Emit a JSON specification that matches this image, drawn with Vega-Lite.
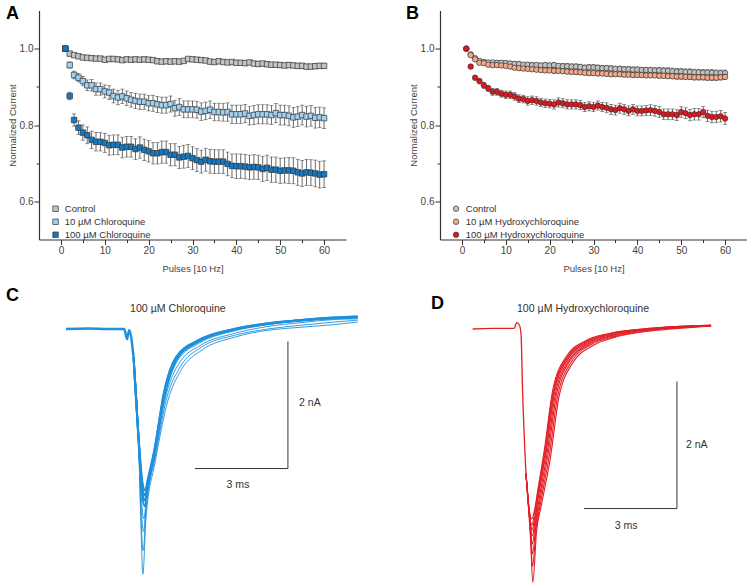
{
"$schema":"https://vega.github.io/schema/vega-lite/v6.json",
"padding":{"left":5,"top":4.5,"right":0,"bottom":0},
"config":{
 "font":"Liberation Sans",
 "view":{"stroke":null},
 "axis":{"domainColor":"#333","domainWidth":1.2,"tickColor":"#333","tickWidth":1,"labelFontSize":10,"labelColor":"#444","titleFontSize":9.5,"titleFontWeight":"normal","titleColor":"#444","grid":false,"labelFont":"Liberation Sans","titleFont":"Liberation Sans"},
 "legend":{"labelFont":"Liberation Sans"}
},
"datasets":{
"top":[
{"p":1,"ac":1.000,"ace":0,"a1":1.000,"a1e":0,"a2":1.000,"a2e":0,"bc":1.000,"bce":0,"b1":1.000,"b1e":0,"b2":1.000,"b2e":0},
{"p":2,"ac":0.987,"ace":0.003,"a1":0.957,"a1e":0.008,"a2":0.876,"a2e":0.010,"bc":0.985,"bce":0.004,"b1":0.983,"b1e":0.004,"b2":0.953,"b2e":0.004},
{"p":3,"ac":0.983,"ace":0.003,"a1":0.931,"a1e":0.010,"a2":0.813,"a2e":0.016,"bc":0.975,"bce":0.005,"b1":0.972,"b1e":0.004,"b2":0.924,"b2e":0.006},
{"p":4,"ac":0.980,"ace":0.003,"a1":0.924,"a1e":0.011,"a2":0.793,"a2e":0.018,"bc":0.968,"bce":0.005,"b1":0.963,"b1e":0.005,"b2":0.915,"b2e":0.007},
{"p":5,"ac":0.977,"ace":0.003,"a1":0.915,"a1e":0.012,"a2":0.780,"a2e":0.020,"bc":0.965,"bce":0.005,"b1":0.962,"b1e":0.005,"b2":0.904,"b2e":0.008},
{"p":6,"ac":0.976,"ace":0.003,"a1":0.904,"a1e":0.014,"a2":0.773,"a2e":0.022,"bc":0.964,"bce":0.005,"b1":0.958,"b1e":0.005,"b2":0.896,"b2e":0.008},
{"p":7,"ac":0.975,"ace":0.003,"a1":0.904,"a1e":0.015,"a2":0.761,"a2e":0.023,"bc":0.964,"bce":0.005,"b1":0.957,"b1e":0.005,"b2":0.887,"b2e":0.009},
{"p":8,"ac":0.974,"ace":0.004,"a1":0.894,"a1e":0.016,"a2":0.756,"a2e":0.024,"bc":0.963,"bce":0.006,"b1":0.957,"b1e":0.005,"b2":0.887,"b2e":0.009},
{"p":9,"ac":0.974,"ace":0.004,"a1":0.894,"a1e":0.016,"a2":0.756,"a2e":0.024,"bc":0.963,"bce":0.006,"b1":0.956,"b1e":0.005,"b2":0.882,"b2e":0.009},
{"p":10,"ac":0.971,"ace":0.004,"a1":0.888,"a1e":0.017,"a2":0.753,"a2e":0.025,"bc":0.962,"bce":0.006,"b1":0.955,"b1e":0.005,"b2":0.879,"b2e":0.010},
{"p":11,"ac":0.973,"ace":0.004,"a1":0.885,"a1e":0.018,"a2":0.747,"a2e":0.026,"bc":0.961,"bce":0.006,"b1":0.953,"b1e":0.005,"b2":0.879,"b2e":0.010},
{"p":12,"ac":0.973,"ace":0.004,"a1":0.876,"a1e":0.018,"a2":0.748,"a2e":0.026,"bc":0.960,"bce":0.006,"b1":0.950,"b1e":0.005,"b2":0.875,"b2e":0.010},
{"p":13,"ac":0.972,"ace":0.004,"a1":0.872,"a1e":0.019,"a2":0.748,"a2e":0.026,"bc":0.960,"bce":0.006,"b1":0.949,"b1e":0.005,"b2":0.869,"b2e":0.010},
{"p":14,"ac":0.970,"ace":0.004,"a1":0.875,"a1e":0.019,"a2":0.741,"a2e":0.027,"bc":0.958,"bce":0.006,"b1":0.948,"b1e":0.005,"b2":0.868,"b2e":0.010},
{"p":15,"ac":0.972,"ace":0.004,"a1":0.870,"a1e":0.019,"a2":0.743,"a2e":0.027,"bc":0.958,"bce":0.006,"b1":0.947,"b1e":0.005,"b2":0.863,"b2e":0.011},
{"p":16,"ac":0.971,"ace":0.004,"a1":0.866,"a1e":0.019,"a2":0.743,"a2e":0.027,"bc":0.957,"bce":0.006,"b1":0.946,"b1e":0.005,"b2":0.865,"b2e":0.011},
{"p":17,"ac":0.972,"ace":0.004,"a1":0.863,"a1e":0.020,"a2":0.737,"a2e":0.027,"bc":0.957,"bce":0.006,"b1":0.945,"b1e":0.005,"b2":0.863,"b2e":0.011},
{"p":18,"ac":0.971,"ace":0.004,"a1":0.861,"a1e":0.020,"a2":0.741,"a2e":0.028,"bc":0.956,"bce":0.006,"b1":0.944,"b1e":0.005,"b2":0.859,"b2e":0.011},
{"p":19,"ac":0.972,"ace":0.004,"a1":0.861,"a1e":0.020,"a2":0.735,"a2e":0.028,"bc":0.957,"bce":0.006,"b1":0.943,"b1e":0.005,"b2":0.857,"b2e":0.011},
{"p":20,"ac":0.971,"ace":0.004,"a1":0.857,"a1e":0.020,"a2":0.731,"a2e":0.028,"bc":0.956,"bce":0.006,"b1":0.943,"b1e":0.005,"b2":0.856,"b2e":0.011},
{"p":21,"ac":0.970,"ace":0.004,"a1":0.857,"a1e":0.021,"a2":0.726,"a2e":0.028,"bc":0.957,"bce":0.006,"b1":0.942,"b1e":0.006,"b2":0.854,"b2e":0.012},
{"p":22,"ac":0.967,"ace":0.004,"a1":0.854,"a1e":0.021,"a2":0.726,"a2e":0.028,"bc":0.955,"bce":0.006,"b1":0.942,"b1e":0.006,"b2":0.859,"b2e":0.012},
{"p":23,"ac":0.966,"ace":0.004,"a1":0.852,"a1e":0.021,"a2":0.729,"a2e":0.029,"bc":0.954,"bce":0.007,"b1":0.941,"b1e":0.006,"b2":0.857,"b2e":0.012},
{"p":24,"ac":0.967,"ace":0.004,"a1":0.852,"a1e":0.021,"a2":0.729,"a2e":0.029,"bc":0.954,"bce":0.007,"b1":0.940,"b1e":0.006,"b2":0.854,"b2e":0.012},
{"p":25,"ac":0.966,"ace":0.004,"a1":0.855,"a1e":0.021,"a2":0.722,"a2e":0.029,"bc":0.953,"bce":0.007,"b1":0.939,"b1e":0.006,"b2":0.854,"b2e":0.012},
{"p":26,"ac":0.967,"ace":0.004,"a1":0.844,"a1e":0.021,"a2":0.722,"a2e":0.029,"bc":0.953,"bce":0.007,"b1":0.939,"b1e":0.006,"b2":0.854,"b2e":0.012},
{"p":27,"ac":0.966,"ace":0.004,"a1":0.847,"a1e":0.022,"a2":0.715,"a2e":0.029,"bc":0.952,"bce":0.007,"b1":0.938,"b1e":0.006,"b2":0.852,"b2e":0.012},
{"p":28,"ac":0.968,"ace":0.004,"a1":0.841,"a1e":0.022,"a2":0.717,"a2e":0.030,"bc":0.950,"bce":0.007,"b1":0.937,"b1e":0.006,"b2":0.847,"b2e":0.012},
{"p":29,"ac":0.973,"ace":0.004,"a1":0.841,"a1e":0.022,"a2":0.719,"a2e":0.030,"bc":0.951,"bce":0.007,"b1":0.936,"b1e":0.006,"b2":0.849,"b2e":0.012},
{"p":30,"ac":0.972,"ace":0.004,"a1":0.841,"a1e":0.022,"a2":0.713,"a2e":0.030,"bc":0.951,"bce":0.007,"b1":0.936,"b1e":0.006,"b2":0.847,"b2e":0.012},
{"p":31,"ac":0.971,"ace":0.005,"a1":0.840,"a1e":0.022,"a2":0.708,"a2e":0.030,"bc":0.950,"bce":0.007,"b1":0.935,"b1e":0.006,"b2":0.851,"b2e":0.012},
{"p":32,"ac":0.970,"ace":0.005,"a1":0.835,"a1e":0.023,"a2":0.704,"a2e":0.030,"bc":0.949,"bce":0.007,"b1":0.935,"b1e":0.006,"b2":0.847,"b2e":0.012},
{"p":33,"ac":0.969,"ace":0.005,"a1":0.837,"a1e":0.023,"a2":0.709,"a2e":0.030,"bc":0.949,"bce":0.007,"b1":0.934,"b1e":0.006,"b2":0.845,"b2e":0.013},
{"p":34,"ac":0.966,"ace":0.005,"a1":0.840,"a1e":0.023,"a2":0.705,"a2e":0.031,"bc":0.948,"bce":0.007,"b1":0.933,"b1e":0.006,"b2":0.841,"b2e":0.013},
{"p":35,"ac":0.965,"ace":0.005,"a1":0.834,"a1e":0.023,"a2":0.704,"a2e":0.031,"bc":0.947,"bce":0.007,"b1":0.933,"b1e":0.006,"b2":0.839,"b2e":0.013},
{"p":36,"ac":0.967,"ace":0.005,"a1":0.834,"a1e":0.023,"a2":0.704,"a2e":0.031,"bc":0.947,"bce":0.007,"b1":0.933,"b1e":0.006,"b2":0.844,"b2e":0.013},
{"p":37,"ac":0.965,"ace":0.005,"a1":0.833,"a1e":0.023,"a2":0.704,"a2e":0.031,"bc":0.946,"bce":0.007,"b1":0.932,"b1e":0.006,"b2":0.841,"b2e":0.013},
{"p":38,"ac":0.964,"ace":0.005,"a1":0.834,"a1e":0.024,"a2":0.698,"a2e":0.031,"bc":0.946,"bce":0.007,"b1":0.932,"b1e":0.006,"b2":0.837,"b2e":0.013},
{"p":39,"ac":0.965,"ace":0.005,"a1":0.828,"a1e":0.024,"a2":0.693,"a2e":0.031,"bc":0.945,"bce":0.007,"b1":0.931,"b1e":0.006,"b2":0.841,"b2e":0.013},
{"p":40,"ac":0.963,"ace":0.005,"a1":0.828,"a1e":0.024,"a2":0.692,"a2e":0.032,"bc":0.945,"bce":0.007,"b1":0.931,"b1e":0.006,"b2":0.837,"b2e":0.013},
{"p":41,"ac":0.963,"ace":0.005,"a1":0.828,"a1e":0.024,"a2":0.692,"a2e":0.032,"bc":0.944,"bce":0.007,"b1":0.931,"b1e":0.006,"b2":0.837,"b2e":0.013},
{"p":42,"ac":0.962,"ace":0.005,"a1":0.830,"a1e":0.024,"a2":0.691,"a2e":0.032,"bc":0.944,"bce":0.007,"b1":0.930,"b1e":0.006,"b2":0.838,"b2e":0.013},
{"p":43,"ac":0.964,"ace":0.005,"a1":0.824,"a1e":0.024,"a2":0.689,"a2e":0.032,"bc":0.944,"bce":0.007,"b1":0.930,"b1e":0.006,"b2":0.839,"b2e":0.014},
{"p":44,"ac":0.961,"ace":0.005,"a1":0.826,"a1e":0.025,"a2":0.690,"a2e":0.032,"bc":0.943,"bce":0.007,"b1":0.930,"b1e":0.006,"b2":0.837,"b2e":0.014},
{"p":45,"ac":0.960,"ace":0.005,"a1":0.828,"a1e":0.025,"a2":0.689,"a2e":0.032,"bc":0.943,"bce":0.008,"b1":0.929,"b1e":0.006,"b2":0.834,"b2e":0.014},
{"p":46,"ac":0.961,"ace":0.006,"a1":0.828,"a1e":0.025,"a2":0.685,"a2e":0.033,"bc":0.942,"bce":0.008,"b1":0.929,"b1e":0.006,"b2":0.828,"b2e":0.014},
{"p":47,"ac":0.959,"ace":0.006,"a1":0.828,"a1e":0.025,"a2":0.688,"a2e":0.033,"bc":0.942,"bce":0.008,"b1":0.928,"b1e":0.006,"b2":0.828,"b2e":0.014},
{"p":48,"ac":0.958,"ace":0.006,"a1":0.826,"a1e":0.025,"a2":0.683,"a2e":0.033,"bc":0.941,"bce":0.008,"b1":0.928,"b1e":0.007,"b2":0.828,"b2e":0.014},
{"p":49,"ac":0.958,"ace":0.006,"a1":0.831,"a1e":0.025,"a2":0.683,"a2e":0.033,"bc":0.940,"bce":0.008,"b1":0.927,"b1e":0.007,"b2":0.826,"b2e":0.014},
{"p":50,"ac":0.957,"ace":0.006,"a1":0.826,"a1e":0.026,"a2":0.680,"a2e":0.033,"bc":0.940,"bce":0.008,"b1":0.927,"b1e":0.007,"b2":0.834,"b2e":0.014},
{"p":51,"ac":0.956,"ace":0.006,"a1":0.826,"a1e":0.026,"a2":0.681,"a2e":0.033,"bc":0.939,"bce":0.008,"b1":0.926,"b1e":0.007,"b2":0.831,"b2e":0.014},
{"p":52,"ac":0.957,"ace":0.006,"a1":0.824,"a1e":0.026,"a2":0.681,"a2e":0.034,"bc":0.939,"bce":0.008,"b1":0.926,"b1e":0.007,"b2":0.826,"b2e":0.015},
{"p":53,"ac":0.956,"ace":0.006,"a1":0.820,"a1e":0.026,"a2":0.680,"a2e":0.034,"bc":0.938,"bce":0.008,"b1":0.925,"b1e":0.007,"b2":0.828,"b2e":0.015},
{"p":54,"ac":0.955,"ace":0.006,"a1":0.822,"a1e":0.026,"a2":0.676,"a2e":0.034,"bc":0.938,"bce":0.008,"b1":0.925,"b1e":0.007,"b2":0.828,"b2e":0.015},
{"p":55,"ac":0.955,"ace":0.006,"a1":0.826,"a1e":0.026,"a2":0.673,"a2e":0.034,"bc":0.937,"bce":0.008,"b1":0.925,"b1e":0.007,"b2":0.834,"b2e":0.015},
{"p":56,"ac":0.953,"ace":0.006,"a1":0.822,"a1e":0.027,"a2":0.676,"a2e":0.034,"bc":0.937,"bce":0.008,"b1":0.924,"b1e":0.007,"b2":0.824,"b2e":0.015},
{"p":57,"ac":0.953,"ace":0.006,"a1":0.824,"a1e":0.027,"a2":0.675,"a2e":0.034,"bc":0.937,"bce":0.008,"b1":0.924,"b1e":0.007,"b2":0.821,"b2e":0.015},
{"p":58,"ac":0.954,"ace":0.006,"a1":0.819,"a1e":0.027,"a2":0.673,"a2e":0.035,"bc":0.936,"bce":0.008,"b1":0.924,"b1e":0.007,"b2":0.821,"b2e":0.015},
{"p":59,"ac":0.955,"ace":0.006,"a1":0.820,"a1e":0.027,"a2":0.670,"a2e":0.035,"bc":0.936,"bce":0.008,"b1":0.925,"b1e":0.007,"b2":0.823,"b2e":0.015},
{"p":60,"ac":0.955,"ace":0.006,"a1":0.818,"a1e":0.027,"a2":0.671,"a2e":0.035,"bc":0.936,"bce":0.008,"b1":0.926,"b1e":0.007,"b2":0.817,"b2e":0.016}
],
"c":[
{"tr":0,"t":0.87,"i":0.04},{"tr":0,"t":1.6,"i":0.05},{"tr":0,"t":2.3,"i":0.04},{"tr":0,"t":2.75,"i":0.04},{"tr":0,"t":2.84,"i":-0.12},{"tr":0,"t":2.91,"i":0.02},{"tr":0,"t":3.05,"i":-0.40},
{"tr":1,"t":3.05,"i":-0.40},{"tr":1,"t":3.22,"i":-1.72},{"tr":1,"t":3.33,"i":-2.35},{"tr":1,"t":3.42,"i":-2.50},{"tr":1,"t":3.52,"i":-2.30},{"tr":1,"t":3.72,"i":-1.87},{"tr":1,"t":4.04,"i":-0.93},{"tr":1,"t":4.42,"i":-0.40},{"tr":1,"t":5.12,"i":-0.14},{"tr":1,"t":6.30,"i":0.04},{"tr":1,"t":7.38,"i":0.13},{"tr":1,"t":8.45,"i":0.18},{"tr":1,"t":9.53,"i":0.22},{"tr":1,"t":10.28,"i":0.23},
{"tr":2,"t":3.05,"i":-0.40},{"tr":2,"t":3.22,"i":-1.74},{"tr":2,"t":3.33,"i":-2.42},{"tr":2,"t":3.42,"i":-2.58},{"tr":2,"t":3.52,"i":-2.36},{"tr":2,"t":3.72,"i":-1.88},{"tr":2,"t":4.05,"i":-0.94},{"tr":2,"t":4.43,"i":-0.41},{"tr":2,"t":5.13,"i":-0.15},{"tr":2,"t":6.30,"i":0.04},{"tr":2,"t":7.38,"i":0.13},{"tr":2,"t":8.45,"i":0.18},{"tr":2,"t":9.53,"i":0.22},{"tr":2,"t":10.28,"i":0.24},
{"tr":3,"t":3.05,"i":-0.40},{"tr":3,"t":3.22,"i":-1.76},{"tr":3,"t":3.33,"i":-2.50},{"tr":3,"t":3.41,"i":-2.66},{"tr":3,"t":3.51,"i":-2.42},{"tr":3,"t":3.72,"i":-1.90},{"tr":3,"t":4.06,"i":-0.95},{"tr":3,"t":4.44,"i":-0.42},{"tr":3,"t":5.14,"i":-0.15},{"tr":3,"t":6.30,"i":0.03},{"tr":3,"t":7.38,"i":0.12},{"tr":3,"t":8.45,"i":0.18},{"tr":3,"t":9.53,"i":0.21},{"tr":3,"t":10.28,"i":0.23},
{"tr":4,"t":3.05,"i":-0.40},{"tr":4,"t":3.22,"i":-1.78},{"tr":4,"t":3.32,"i":-2.55},{"tr":4,"t":3.41,"i":-2.75},{"tr":4,"t":3.51,"i":-2.48},{"tr":4,"t":3.72,"i":-1.92},{"tr":4,"t":4.07,"i":-0.96},{"tr":4,"t":4.45,"i":-0.43},{"tr":4,"t":5.15,"i":-0.16},{"tr":4,"t":6.30,"i":0.03},{"tr":4,"t":7.38,"i":0.12},{"tr":4,"t":8.45,"i":0.17},{"tr":4,"t":9.53,"i":0.21},{"tr":4,"t":10.28,"i":0.22},
{"tr":5,"t":3.05,"i":-0.40},{"tr":5,"t":3.22,"i":-1.80},{"tr":5,"t":3.30,"i":-2.60},{"tr":5,"t":3.38,"i":-2.95},{"tr":5,"t":3.48,"i":-2.55},{"tr":5,"t":3.72,"i":-1.95},{"tr":5,"t":4.08,"i":-0.98},{"tr":5,"t":4.48,"i":-0.45},{"tr":5,"t":5.18,"i":-0.18},{"tr":5,"t":6.30,"i":0.01},{"tr":5,"t":7.38,"i":0.11},{"tr":5,"t":8.45,"i":0.17},{"tr":5,"t":9.53,"i":0.21},{"tr":5,"t":10.28,"i":0.22},
{"tr":6,"t":3.05,"i":-0.40},{"tr":6,"t":3.22,"i":-1.82},{"tr":6,"t":3.29,"i":-2.70},{"tr":6,"t":3.37,"i":-3.15},{"tr":6,"t":3.47,"i":-2.62},{"tr":6,"t":3.73,"i":-1.98},{"tr":6,"t":4.10,"i":-1.00},{"tr":6,"t":4.52,"i":-0.50},{"tr":6,"t":5.20,"i":-0.22},{"tr":6,"t":6.30,"i":-0.03},{"tr":6,"t":7.38,"i":0.08},{"tr":6,"t":8.45,"i":0.14},{"tr":6,"t":9.53,"i":0.19},{"tr":6,"t":10.28,"i":0.20},
{"tr":7,"t":3.05,"i":-0.40},{"tr":7,"t":3.22,"i":-1.84},{"tr":7,"t":3.28,"i":-2.80},{"tr":7,"t":3.36,"i":-3.45},{"tr":7,"t":3.46,"i":-2.75},{"tr":7,"t":3.74,"i":-2.00},{"tr":7,"t":4.12,"i":-1.05},{"tr":7,"t":4.55,"i":-0.56},{"tr":7,"t":5.23,"i":-0.25},{"tr":7,"t":6.30,"i":-0.06},{"tr":7,"t":7.38,"i":0.04},{"tr":7,"t":8.45,"i":0.10},{"tr":7,"t":9.53,"i":0.15},{"tr":7,"t":10.28,"i":0.18},
{"tr":8,"t":3.05,"i":-0.40},{"tr":8,"t":3.22,"i":-1.86},{"tr":8,"t":3.28,"i":-2.90},{"tr":8,"t":3.35,"i":-3.82},{"tr":8,"t":3.45,"i":-2.95},{"tr":8,"t":3.75,"i":-2.05},{"tr":8,"t":4.15,"i":-1.10},{"tr":8,"t":4.58,"i":-0.61},{"tr":8,"t":5.23,"i":-0.30},{"tr":8,"t":6.30,"i":-0.09},{"tr":8,"t":7.38,"i":0.02},{"tr":8,"t":8.24,"i":0.06},{"tr":8,"t":9.53,"i":0.11},{"tr":8,"t":10.28,"i":0.15}
],
"d":[
{"tr":0,"t":0.86,"i":0.04},{"tr":0,"t":1.5,"i":0.05},{"tr":0,"t":2.20,"i":0.05},{"tr":0,"t":2.28,"i":0.14},{"tr":0,"t":2.37,"i":0.10},{"tr":0,"t":2.42,"i":-0.04},{"tr":0,"t":2.47,"i":-0.93},{"tr":0,"t":2.58,"i":-2.24},
{"tr":1,"t":2.58,"i":-2.24},{"tr":1,"t":2.70,"i":-2.85},{"tr":1,"t":2.77,"i":-2.95},{"tr":1,"t":2.86,"i":-2.80},{"tr":1,"t":2.96,"i":-2.50},{"tr":1,"t":3.17,"i":-1.87},{"tr":1,"t":3.44,"i":-0.93},{"tr":1,"t":3.87,"i":-0.40},{"tr":1,"t":4.52,"i":-0.14},{"tr":1,"t":5.27,"i":-0.03},{"tr":1,"t":6.34,"i":0.04},{"tr":1,"t":7.42,"i":0.08},{"tr":1,"t":8.55,"i":0.10},
{"tr":2,"t":2.58,"i":-2.24},{"tr":2,"t":2.70,"i":-2.90},{"tr":2,"t":2.77,"i":-3.05},{"tr":2,"t":2.86,"i":-2.85},{"tr":2,"t":2.97,"i":-2.52},{"tr":2,"t":3.19,"i":-1.88},{"tr":2,"t":3.46,"i":-0.94},{"tr":2,"t":3.90,"i":-0.41},{"tr":2,"t":4.55,"i":-0.15},{"tr":2,"t":5.29,"i":-0.03},{"tr":2,"t":6.34,"i":0.04},{"tr":2,"t":7.42,"i":0.08},{"tr":2,"t":8.55,"i":0.10},
{"tr":3,"t":2.58,"i":-2.24},{"tr":3,"t":2.71,"i":-2.95},{"tr":3,"t":2.77,"i":-3.13},{"tr":3,"t":2.87,"i":-2.90},{"tr":3,"t":2.98,"i":-2.55},{"tr":3,"t":3.21,"i":-1.89},{"tr":3,"t":3.48,"i":-0.95},{"tr":3,"t":3.92,"i":-0.42},{"tr":3,"t":4.57,"i":-0.16},{"tr":3,"t":5.31,"i":-0.04},{"tr":3,"t":6.36,"i":0.03},{"tr":3,"t":7.42,"i":0.08},{"tr":3,"t":8.55,"i":0.10},
{"tr":4,"t":2.58,"i":-2.24},{"tr":4,"t":2.71,"i":-3.00},{"tr":4,"t":2.78,"i":-3.22},{"tr":4,"t":2.88,"i":-2.95},{"tr":4,"t":2.99,"i":-2.58},{"tr":4,"t":3.23,"i":-1.90},{"tr":4,"t":3.50,"i":-0.96},{"tr":4,"t":3.94,"i":-0.43},{"tr":4,"t":4.60,"i":-0.17},{"tr":4,"t":5.33,"i":-0.05},{"tr":4,"t":6.38,"i":0.03},{"tr":4,"t":7.44,"i":0.07},{"tr":4,"t":8.55,"i":0.10},
{"tr":5,"t":2.58,"i":-2.24},{"tr":5,"t":2.72,"i":-3.05},{"tr":5,"t":2.78,"i":-3.35},{"tr":5,"t":2.89,"i":-3.00},{"tr":5,"t":3.01,"i":-2.62},{"tr":5,"t":3.26,"i":-1.92},{"tr":5,"t":3.53,"i":-0.98},{"tr":5,"t":3.97,"i":-0.45},{"tr":5,"t":4.63,"i":-0.18},{"tr":5,"t":5.36,"i":-0.06},{"tr":5,"t":6.40,"i":0.02},{"tr":5,"t":7.45,"i":0.07},{"tr":5,"t":8.55,"i":0.09},
{"tr":6,"t":2.58,"i":-2.24},{"tr":6,"t":2.72,"i":-3.10},{"tr":6,"t":2.79,"i":-3.50},{"tr":6,"t":2.90,"i":-3.05},{"tr":6,"t":3.03,"i":-2.66},{"tr":6,"t":3.29,"i":-1.94},{"tr":6,"t":3.56,"i":-1.00},{"tr":6,"t":4.00,"i":-0.46},{"tr":6,"t":4.66,"i":-0.19},{"tr":6,"t":5.39,"i":-0.07},{"tr":6,"t":6.42,"i":0.02},{"tr":6,"t":7.46,"i":0.06},{"tr":6,"t":8.55,"i":0.09},
{"tr":7,"t":2.58,"i":-2.24},{"tr":7,"t":2.73,"i":-3.20},{"tr":7,"t":2.79,"i":-3.70},{"tr":7,"t":2.91,"i":-3.10},{"tr":7,"t":3.05,"i":-2.70},{"tr":7,"t":3.33,"i":-1.96},{"tr":7,"t":3.60,"i":-1.02},{"tr":7,"t":4.04,"i":-0.48},{"tr":7,"t":4.70,"i":-0.20},{"tr":7,"t":5.42,"i":-0.08},{"tr":7,"t":6.44,"i":0.01},{"tr":7,"t":7.48,"i":0.06},{"tr":7,"t":8.55,"i":0.09},
{"tr":8,"t":2.58,"i":-2.24},{"tr":8,"t":2.73,"i":-3.30},{"tr":8,"t":2.80,"i":-3.95},{"tr":8,"t":2.92,"i":-3.15},{"tr":8,"t":3.07,"i":-2.75},{"tr":8,"t":3.37,"i":-1.98},{"tr":8,"t":3.64,"i":-1.04},{"tr":8,"t":4.08,"i":-0.50},{"tr":8,"t":4.74,"i":-0.22},{"tr":8,"t":5.46,"i":-0.09},{"tr":8,"t":6.46,"i":0.00},{"tr":8,"t":7.50,"i":0.05},{"tr":8,"t":8.55,"i":0.09}
]
},
"columns":2,
"spacing":{"row":73,"column":71},
"bounds":"flush",
"resolve":{"scale":{"x":"independent","y":"independent","color":"independent"}},
"concat":[
{
"width":307,"height":229,
"data":{"name":"top"},
"encoding":{"x":{"field":"p","type":"quantitative","title":"Pulses [10 Hz]","scale":{"domain":[-5,65],"nice":false,"zero":false},"axis":{"values":[0,5,10,15,20,25,30,35,40,45,50,55,60],"labelExpr":"datum.value%10==0?datum.label:''","tickSize":{"condition":{"test":"datum.value%10==0","value":5},"value":3},"labelPadding":1,"titlePadding":8}}},
"layer":[
{"mark":{"type":"errorbar","color":"#444","thickness":0.8,"ticks":{"size":4,"color":"#444"}},"encoding":{"y":{"field":"ac","type":"quantitative","title":"Normalized Current","scale":{"domain":[0.5,1.1],"nice":false,"zero":false},"axis":{"values":[0.6,0.7,0.8,0.9,1.0],"format":".1f","labelExpr":"round(datum.value*10)%2==0?datum.label:''","tickSize":{"condition":{"test":"round(datum.value*10)%2==0","value":5},"value":3},"labelPadding":1,"titlePadding":2}},"yError":{"field":"ace"}}},
{"mark":{"type":"point","filled":true,"shape":"square","size":30,"stroke":"#333","strokeWidth":0.7,"opacity":1},"encoding":{"y":{"field":"ac","type":"quantitative","title":"Normalized Current"},"color":{"datum":"Control","type":"nominal","scale":{"domain":["Control","10 µM Chloroquine","100 µM Chloroquine"],"range":["#c4c4c4","#9fd2f1","#1479c4"]},"legend":{"orient":"none","legendX":11.8,"legendY":193.5,"title":null,"symbolType":"square","symbolSize":30,"symbolStrokeColor":"#333","symbolStrokeWidth":0.7,"symbolOpacity":1,"labelFontSize":9.5,"labelColor":"#333","rowPadding":2,"padding":0,"labelOffset":4.5}}}},
{"mark":{"type":"errorbar","color":"#444","thickness":0.8,"ticks":{"size":4,"color":"#444"}},"encoding":{"y":{"field":"a1","type":"quantitative","title":"Normalized Current"},"yError":{"field":"a1e"}}},
{"mark":{"type":"point","filled":true,"shape":"square","size":30,"stroke":"#333","strokeWidth":0.7,"opacity":1},"encoding":{"y":{"field":"a1","type":"quantitative","title":"Normalized Current"},"color":{"datum":"10 µM Chloroquine","type":"nominal"}}},
{"mark":{"type":"errorbar","color":"#444","thickness":0.8,"ticks":{"size":4,"color":"#444"}},"encoding":{"y":{"field":"a2","type":"quantitative","title":"Normalized Current"},"yError":{"field":"a2e"}}},
{"mark":{"type":"point","filled":true,"shape":"square","size":30,"stroke":"#333","strokeWidth":0.7,"opacity":1},"encoding":{"y":{"field":"a2","type":"quantitative","title":"Normalized Current"},"color":{"datum":"100 µM Chloroquine","type":"nominal"}}},
{"data":{"values":[{"p":-12.52,"ac":1.0908,"s":"A"}]},"mark":{"type":"text","align":"left","baseline":"middle","fontSize":18,"fontWeight":"bold","color":"#000"},"encoding":{"y":{"field":"ac","type":"quantitative","title":"Normalized Current"},"text":{"field":"s"}}}
]
},
{
"width":307,"height":229,
"data":{"name":"top"},
"encoding":{"x":{"field":"p","type":"quantitative","title":"Pulses [10 Hz]","scale":{"domain":[-5,65],"nice":false,"zero":false},"axis":{"values":[0,5,10,15,20,25,30,35,40,45,50,55,60],"labelExpr":"datum.value%10==0?datum.label:''","tickSize":{"condition":{"test":"datum.value%10==0","value":5},"value":3},"labelPadding":1,"titlePadding":8}}},
"layer":[
{"mark":{"type":"errorbar","color":"#444","thickness":0.8,"ticks":{"size":4,"color":"#444"}},"encoding":{"y":{"field":"bc","type":"quantitative","title":"Normalized Current","scale":{"domain":[0.5,1.1],"nice":false,"zero":false},"axis":{"values":[0.6,0.7,0.8,0.9,1.0],"format":".1f","labelExpr":"round(datum.value*10)%2==0?datum.label:''","tickSize":{"condition":{"test":"round(datum.value*10)%2==0","value":5},"value":3},"labelPadding":1,"titlePadding":2}},"yError":{"field":"bce"}}},
{"mark":{"type":"point","filled":true,"shape":"circle","size":30,"stroke":"#333","strokeWidth":0.7,"opacity":1},"encoding":{"y":{"field":"bc","type":"quantitative","title":"Normalized Current"},"color":{"datum":"Control","type":"nominal","scale":{"domain":["Control","10 µM Hydroxychloroquine","100 µM Hydroxychloroquine"],"range":["#c2c2c2","#f4a98b","#e2161e"]},"legend":{"orient":"none","legendX":11.3,"legendY":193.5,"title":null,"symbolType":"circle","symbolSize":30,"symbolStrokeColor":"#333","symbolStrokeWidth":0.7,"symbolOpacity":1,"labelFontSize":9.5,"labelColor":"#333","rowPadding":2,"padding":0,"labelOffset":5}}}},
{"mark":{"type":"errorbar","color":"#444","thickness":0.8,"ticks":{"size":4,"color":"#444"}},"encoding":{"y":{"field":"b1","type":"quantitative","title":"Normalized Current"},"yError":{"field":"b1e"}}},
{"mark":{"type":"point","filled":true,"shape":"circle","size":30,"stroke":"#333","strokeWidth":0.7,"opacity":1},"encoding":{"y":{"field":"b1","type":"quantitative","title":"Normalized Current"},"color":{"datum":"10 µM Hydroxychloroquine","type":"nominal"}}},
{"mark":{"type":"errorbar","color":"#444","thickness":0.8,"ticks":{"size":4,"color":"#444"}},"encoding":{"y":{"field":"b2","type":"quantitative","title":"Normalized Current"},"yError":{"field":"b2e"}}},
{"mark":{"type":"point","filled":true,"shape":"circle","size":30,"stroke":"#333","strokeWidth":0.7,"opacity":1},"encoding":{"y":{"field":"b2","type":"quantitative","title":"Normalized Current"},"color":{"datum":"100 µM Hydroxychloroquine","type":"nominal"}}},
{"data":{"values":[{"p":-12.75,"bc":1.0908,"s":"B"}]},"mark":{"type":"text","align":"left","baseline":"middle","fontSize":18,"fontWeight":"bold","color":"#000"},"encoding":{"y":{"field":"bc","type":"quantitative","title":"Normalized Current"},"text":{"field":"s"}}}
]
},
{
"width":330,"height":275,
"data":{"name":"c"},
"encoding":{"x":{"field":"t","type":"quantitative","scale":{"domain":[0,10.645],"nice":false,"zero":false},"axis":null},"y":{"field":"i","type":"quantitative","scale":{"domain":[-4.03,0.3],"nice":false,"zero":false},"axis":null}},
"layer":[
{"transform":[{"filter":"datum.tr>=5"}],"mark":{"type":"line","color":"#1e90dc","strokeWidth":0.9,"interpolate":"monotone"},"encoding":{"detail":{"field":"tr","type":"nominal"}}},
{"transform":[{"filter":"datum.tr>=1 && datum.tr<=4"}],"mark":{"type":"line","color":"#1e90dc","strokeWidth":2,"interpolate":"monotone"},"encoding":{"detail":{"field":"tr","type":"nominal"}}},
{"transform":[{"filter":"datum.tr==0"}],"mark":{"type":"line","color":"#1e90dc","strokeWidth":2.5,"interpolate":"monotone"},"encoding":{}},
{"data":{"values":[{"t":5.03,"t2":8.03,"i":-2.157,"i2":-2.157},{"t":8.03,"t2":8.03,"i":-0.157,"i2":-2.157}]},"mark":{"type":"rule","color":"#333","strokeWidth":1},"encoding":{"x2":{"field":"t2"},"y2":{"field":"i2"}}},
{"data":{"values":[{"t":4.48,"i":0.36,"s":"100 µM Chloroquine"},{"t":6.42,"i":-2.41,"s":"3 ms"}]},"mark":{"type":"text","align":"center","baseline":"middle","fontSize":10.6,"color":"#333"},"encoding":{"text":{"field":"s"}}},
{"data":{"values":[{"t":8.39,"i":-1.13,"s":"2 nA"}]},"mark":{"type":"text","align":"left","baseline":"middle","fontSize":10.5,"color":"#333"},"encoding":{"text":{"field":"s"}}},
{"data":{"values":[{"t":-1.065,"i":0.56,"s":"C"}]},"mark":{"type":"text","align":"left","baseline":"middle","fontSize":18,"fontWeight":"bold","color":"#000"},"encoding":{"text":{"field":"s"}}}
]
},
{
"width":300,"height":275,
"data":{"name":"d"},
"encoding":{"x":{"field":"t","type":"quantitative","scale":{"domain":[-0.1935,9.4835],"nice":false,"zero":false},"axis":null},"y":{"field":"i","type":"quantitative","scale":{"domain":[-4.03,0.3],"nice":false,"zero":false},"axis":null}},
"layer":[
{"transform":[{"filter":"datum.tr>=1"}],"mark":{"type":"line","color":"#e41e26","strokeWidth":1.1,"interpolate":"monotone"},"encoding":{"detail":{"field":"tr","type":"nominal"}}},
{"transform":[{"filter":"datum.tr==0"}],"mark":{"type":"line","color":"#e41e26","strokeWidth":1.3,"interpolate":"monotone"},"encoding":{}},
{"data":{"values":[{"t":4.45,"t2":7.45,"i":-2.787,"i2":-2.787},{"t":7.45,"t2":7.45,"i":-0.787,"i2":-2.787}]},"mark":{"type":"rule","color":"#333","strokeWidth":1},"encoding":{"x2":{"field":"t2"},"y2":{"field":"i2"}}},
{"data":{"values":[{"t":4.42,"i":0.35,"s":"100 µM Hydroxychloroquine"},{"t":5.81,"i":-3.055,"s":"3 ms"}]},"mark":{"type":"text","align":"center","baseline":"middle","fontSize":10.6,"color":"#333"},"encoding":{"text":{"field":"s"}}},
{"data":{"values":[{"t":7.74,"i":-1.78,"s":"2 nA"}]},"mark":{"type":"text","align":"left","baseline":"middle","fontSize":10.5,"color":"#333"},"encoding":{"text":{"field":"s"}}},
{"data":{"values":[{"t":-0.484,"i":0.433,"s":"D"}]},"mark":{"type":"text","align":"left","baseline":"middle","fontSize":18,"fontWeight":"bold","color":"#000"},"encoding":{"text":{"field":"s"}}}
]
}
]
}
